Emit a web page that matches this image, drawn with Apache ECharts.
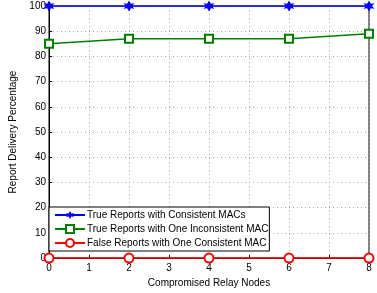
<!DOCTYPE html>
<html>
<head>
<meta charset="utf-8">
<script src="https://cdn.jsdelivr.net/npm/echarts@6/dist/echarts.min.js"></script>
<style>
html,body{margin:0;padding:0;background:#fff;}
#main{width:377px;height:293px;}
</style>
</head>
<body>
<div id="main"></div>
<script>
// 資料
let xData = [0, 2, 4, 6, 8];
let yConsistent = [100, 100, 100, 100, 100];
let yInconsistent = [85, 87, 87, 87, 89];
let yFalse = [0, 0, 0, 0, 0];
let seriesNames = ['True Reports with Consistent MACs', 'True Reports with One Inconsistent MAC', 'False Reports with One Consistent MAC'];

let myChart = echarts.init(document.getElementById('main'));

function pairs(ys){
    return xData.map(function(x, i){ return [x, ys[i]]; });
}

let font = 'Liberation Sans';

let option = {
    animation: false,
    textStyle: { fontFamily: font },
    grid: {
        left: 49, right: 8, top: 6, bottom: 34,
        show: true,
        borderColor: '#000',
        borderWidth: 1
    },
    legend: {
        left: 49, top: 207,
        orient: 'vertical',
        backgroundColor: '#fff',
        borderColor: '#000',
        borderWidth: 1,
        padding: [3, 1, 3, 5],
        itemGap: 4,
        itemWidth: 30,
        itemHeight: 10,
        textStyle: { fontSize: 10, color: '#000', fontFamily: font, padding: [0, 0, 0, -3] },
        data: seriesNames
    },
    xAxis: {
        type: 'value',
        min: 0, max: 8, interval: 1,
        name: 'Compromised Relay Nodes',
        nameLocation: 'middle',
        nameGap: 19,
        nameTextStyle: { fontSize: 10, color: '#000' },
        axisLine: { lineStyle: { color: '#000' } },
        axisTick: { inside: true, length: 3, lineStyle: { color: '#000' } },
        axisLabel: { fontSize: 10, color: '#000', margin: 5 },
        splitLine: { show: true, lineStyle: { color: '#aaa', type: [1, 3] } }
    },
    yAxis: {
        type: 'value',
        min: 0, max: 100, interval: 10,
        name: 'Report Delivery Percentage',
        nameLocation: 'middle',
        nameGap: 29,
        nameTextStyle: { fontSize: 10, color: '#000' },
        axisLine: { show: true, lineStyle: { color: '#000' } },
        axisTick: { show: true, inside: true, length: 3, lineStyle: { color: '#000' } },
        axisLabel: { fontSize: 10, color: '#000', margin: 3 },
        splitLine: { show: true, lineStyle: { color: '#aaa', type: [1, 3] } }
    },
    series: [
        {
            name: seriesNames[0],
            type: 'line',
            data: pairs(yConsistent),
            color: '#0000ff',
            symbol: 'path://M0,-10 L3,-4 L9,-5 L5,0 L9,5 L3,4 L0,10 L-3,4 L-9,5 L-5,0 L-9,-5 L-3,-4 Z',
            symbolSize: 11,
            lineStyle: { width: 1.5 },
            z: 4
        },
        {
            name: seriesNames[1],
            type: 'line',
            data: pairs(yInconsistent),
            color: '#008000',
            symbol: 'emptyRect',
            symbolSize: 8,
            itemStyle: { borderWidth: 1.5 },
            lineStyle: { width: 1.5 },
            z: 3
        },
        {
            name: seriesNames[2],
            type: 'line',
            data: pairs(yFalse),
            color: '#ff0000',
            symbol: 'emptyCircle',
            symbolSize: 9,
            itemStyle: { borderWidth: 1.5 },
            lineStyle: { width: 1.5 },
            clip: false,
            z: 5
        }
    ]
};

myChart.setOption(option);

window.onresize = function () {
    myChart.resize();
}
</script>
</body>
</html>
